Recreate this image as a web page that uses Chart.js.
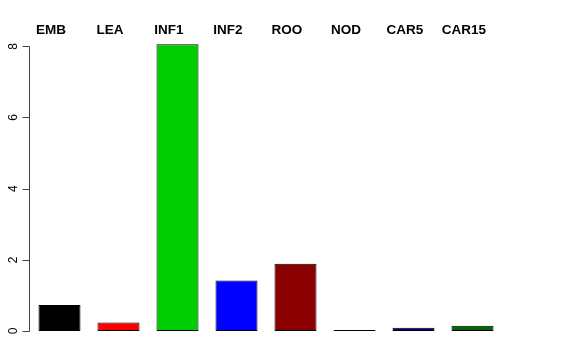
<!DOCTYPE html>
<html>
<head>
<meta charset="utf-8">
<script src="https://cdn.jsdelivr.net/npm/chart.js@4/dist/chart.umd.min.js"></script>
<style>
  html, body { margin: 0; padding: 0; background: #fff; }
  canvas { display: block; }
</style>
</head>
<body>
<canvas id="chart" width="576" height="360"></canvas>
<script>
// 数据
const categories = ['EMB', 'LEA', 'INF1', 'INF2', 'ROO', 'NOD', 'CAR5', 'CAR15'];
const values = [0.73, 0.24, 8.06, 1.42, 1.89, 0.03, 0.09, 0.15];
const barColors = ['#000000', '#ff0000', '#00cd00', '#0000ff', '#8b0000', '#a020f0', '#000080', '#006400'];
const yTicks = [0, 2, 4, 6, 8];

const fontFamily = '"Liberation Sans", Arial, Helvetica, sans-serif';

// R 风格的左侧坐标轴
const rAxisPlugin = {
    id: 'rAxis',
    afterDraw(chart) {
        const ctx = chart.ctx;
        const y = chart.scales.y;
        const x0 = 29.5;
        ctx.save();
        ctx.strokeStyle = '#444';
        ctx.lineWidth = 1;
        ctx.beginPath();
        ctx.moveTo(x0, Math.round(y.getPixelForValue(yTicks[0])) + 0.5);
        ctx.lineTo(x0, Math.round(y.getPixelForValue(yTicks[yTicks.length - 1])) + 0.5);
        yTicks.forEach(t => {
            const py = Math.round(y.getPixelForValue(t)) + 0.5;
            ctx.moveTo(x0, py);
            ctx.lineTo(x0 - 7, py);
        });
        ctx.stroke();

        ctx.fillStyle = '#000';
        ctx.font = '12px ' + fontFamily;
        ctx.textAlign = 'center';
        ctx.textBaseline = 'middle';
        yTicks.forEach(t => {
            const py = y.getPixelForValue(t);
            ctx.save();
            ctx.translate(14, py);
            ctx.rotate(-Math.PI / 2);
            ctx.fillText(String(t), 0, 0);
            ctx.restore();
        });
        ctx.restore();
    }
};

const ctx = document.getElementById('chart').getContext('2d');
const chart = new Chart(ctx, {
    type: 'bar',
    data: {
        labels: categories,
        datasets: [{
            data: values,
            backgroundColor: barColors,
            borderColor: '#000',
            borderWidth: 1,
            borderSkipped: false,
            categoryPercentage: 1,
            barPercentage: 0.712
        }]
    },
    options: {
        responsive: false,
        animation: false,
        layout: {
            padding: { left: 30, right: 74, top: 21, bottom: 29 }
        },
        scales: {
            x: {
                position: 'top',
                grid: { display: false, drawTicks: false },
                border: { display: false },
                ticks: {
                    padding: 1,
                    labelOffset: -8.5,
                    color: '#000',
                    font: { family: fontFamily, size: 13.5, weight: 'bold' }
                }
            },
            y: {
                display: false,
                min: 0,
                max: 8.2
            }
        },
        plugins: {
            legend: { display: false },
            tooltip: { enabled: false }
        }
    },
    plugins: [rAxisPlugin]
});
</script>
</body>
</html>
